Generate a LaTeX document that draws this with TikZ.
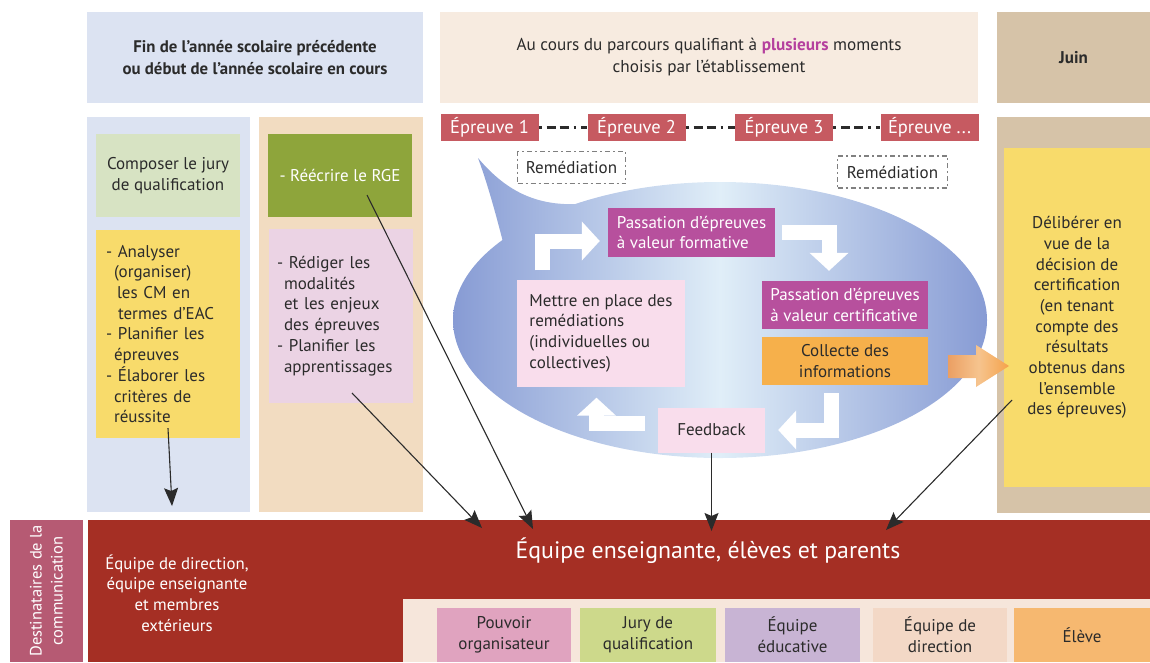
\documentclass[tikz,border=0pt]{standalone}
\usepackage{fontspec}
\setmainfont{PT Sans}
\usepackage{tikz}
\usetikzlibrary{arrows.meta,positioning,shapes.geometric}

\definecolor{ink}{HTML}{2B2B2B}
\definecolor{hdrblue}{HTML}{DCE3F2}
\definecolor{hdrpeach}{HTML}{F7EBE0}
\definecolor{tan}{HTML}{D6C3A8}
\definecolor{colpeach}{HTML}{F2DCC1}
\definecolor{jurygreen}{HTML}{D7E3C3}
\definecolor{sun}{HTML}{F8DB6B}
\definecolor{rgegreen}{HTML}{8EA53B}
\definecolor{redigpink}{HTML}{EBD3E4}
\definecolor{epr}{HTML}{C65A61}
\definecolor{plum}{HTML}{B7509D}
\definecolor{plumtxt}{HTML}{B5409E}
\definecolor{amber}{HTML}{F6B04B}
\definecolor{palepink}{HTML}{F9DDEC}
\definecolor{bandred}{HTML}{A52F24}
\definecolor{destrose}{HTML}{B65A73}
\definecolor{legbg}{HTML}{F6E6DB}
\definecolor{legpink}{HTML}{E0A3BF}
\definecolor{leggreen}{HTML}{CDD98B}
\definecolor{leglav}{HTML}{C8B4D4}
\definecolor{legpeach}{HTML}{F3D8C6}
\definecolor{legorange}{HTML}{F6B870}
\definecolor{bEdge}{HTML}{879BD4}
\definecolor{bMid}{HTML}{E0EEF8}
\definecolor{arrL}{HTML}{EB9F63}
\definecolor{arrM}{HTML}{F6C48E}
\definecolor{arrR}{HTML}{F5A24A}

\newcommand{\bodyfont}{\fontsize{17}{20.7}\selectfont}

\begin{document}
\begin{tikzpicture}[x=1pt, y=-1pt,
  zone/.style={fill=#1, inner sep=0pt},
  card/.style={fill=#1, inner sep=0pt, font=\bodyfont, text=ink, align=center},
  trial/.style={fill=epr, text=white, inner sep=0pt, minimum width=98pt,
    minimum height=27pt, font=\fontsize{18.5}{20}\selectfont},
  remed/.style={draw=black!50, line width=1.1pt, dash pattern=on 5pt off 3pt on 2pt off 3pt,
    fill=white, inner sep=0pt, minimum height=32pt, font=\bodyfont, text=ink},
  dots/.style={line width=2.8pt, draw=ink, dash pattern=on 2.8pt off 5pt on 9pt off 4pt on 9pt off 5pt},
  turn/.style={draw=white, line width=15pt, -{Triangle[length=18pt, width=38pt]}},
  pointer/.style={draw=ink, line width=1.1pt, -{Stealth[length=18pt, width=14pt, inset=3pt]}}
]
  \useasboundingbox (0,0) rectangle (1150,662);

  % time headers
  \node[zone=hdrblue, minimum width=336pt, minimum height=91pt, text=ink, align=center,
    font=\fontsize{16.8}{22}\selectfont\bfseries] (hdrL) at (255,57.5)
    {Fin de l'année scolaire précédente\\ou début de l'année scolaire en cours};
  \node[zone=hdrpeach, minimum width=538pt, minimum height=91pt, text=ink, align=center,
    font=\fontsize{17.2}{22}\selectfont] (hdrM) at (709,57.5)
    {Au cours du parcours qualifiant à \textcolor{plumtxt}{\textbf{plusieurs}} moments\\choisis par l'établissement};
  \node[zone=tan, minimum width=153pt, minimum height=91pt, text=ink,
    font=\fontsize{17}{20}\selectfont\bfseries] (hdrR) at (1073.5,57.5) {Juin};

  % columns
  \node[zone=hdrblue, minimum width=163pt, minimum height=395pt] (colA) at (168.5,314.5) {};
  \node[zone=colpeach, minimum width=164pt, minimum height=395pt] (colB) at (341,314.5) {};
  \node[zone=tan, minimum width=153pt, minimum height=396pt] (colR) at (1073.5,315) {};

  \node[card=jurygreen, minimum width=144pt, minimum height=83pt] (jury) at (168,175.5)
    {Composer le jury\\de qualification};
  \node[card=sun, minimum width=144pt, minimum height=208pt, text width=124pt, align=left] (analy) at (168,334)
    {- Analyser\\\hspace*{8pt}(organiser)\\\hspace*{11pt}les CM en\\\hspace*{12pt}termes d'EAC\\
     - Planifier les\\\hspace*{8pt}épreuves\\- Élaborer les\\\hspace*{8pt}critères de\\\hspace*{8pt}réussite};
  \node[card=rgegreen, minimum width=144pt, minimum height=83pt, text=white] (rge) at (340,175.5)
    {- Réécrire le RGE};
  \node[card=redigpink, minimum width=144pt, minimum height=174pt, text width=128pt, align=left] (redig) at (341,316)
    {- Rédiger les\\\hspace*{7pt}modalités\\\hspace*{7pt}et les enjeux\\\hspace*{7pt}des épreuves\\
     - Planifier les\\\hspace*{7pt}apprentissages};
  \node[card=sun, minimum width=146pt, minimum height=339pt] (delib) at (1077,317.5)
    {Délibérer en\\vue de la\\décision de\\certification\\(en tenant\\compte des\\résultats\\obtenus dans\\l'ensemble\\des épreuves)};

  % speech bubble
  \shade[left color=bMid!9!bEdge, right color=bMid!47!bEdge]
    (478,158) .. controls (505,190) and (535,206) .. (578,204) -- (560,270) -- (503,242)
    .. controls (496,215) and (488,185) .. cycle;
  \node[ellipse, inner sep=0pt, minimum width=534pt, minimum height=276pt,
    left color=bEdge, right color=bEdge, middle color=bMid] (bubble) at (720,320) {};

  \node[card=plum, minimum width=167pt, minimum height=49pt, text=white, align=left] (form) at (691.5,232.5)
    {Passation d'épreuves\\à valeur formative};
  \node[card=plum, minimum width=166pt, minimum height=48pt, text=white, align=left] (cert) at (845,305)
    {Passation d'épreuves\\à valeur certificative};
  \node[card=amber, minimum width=166pt, minimum height=48pt] (coll) at (845,361)
    {Collecte des\\informations};
  \node[card=palepink, minimum width=168pt, minimum height=107pt, align=left] (mettre) at (601,333)
    {Mettre en place des\\remédiations\\(individuelles ou\\collectives)};
  \node[card=palepink, minimum width=107pt, minimum height=45pt] (feed) at (711.5,430) {Feedback};

  \draw[turn] ([xshift=26pt,yshift=9pt]mettre.north west) |- ([xshift=-8pt,yshift=-8.5pt]form.west);
  \draw[turn] ([xshift=7pt]form.east) -| ([xshift=-16pt,yshift=10pt]cert.north);
  \draw[turn] ([xshift=-14pt,yshift=-8pt]coll.south) |- ([xshift=13pt]feed.east);
  \draw[turn] ([xshift=-13pt,yshift=7pt]feed.west) -| ([xshift=-4.5pt,yshift=-11pt]mettre.south);

  % orange arrow to the deliberation
  \shade[left color=arrL, right color=arrR, middle color=arrM]
    (948,355) -- (976,355) -- (976,345) -- (1009,366) -- (976,387) -- (976,378) -- (948,378) -- cycle;

  % tests
  \node[trial] (e1) at (489.5,127.5) {Épreuve 1};
  \node[trial] (e2) at (636.5,127.5) {Épreuve 2};
  \node[trial] (e3) at (784,127.5) {Épreuve 3};
  \node[trial] (e4) at (929.5,127.5) {Épreuve ...};
  \draw[dots] (e1) -- (e2);
  \draw[dots] (e2) -- (e3);
  \draw[dots] (e3) -- (e4);

  \node[remed, minimum width=108pt] (rem1) at (571.5,167.5) {Remédiation};
  \node[remed, minimum width=110pt] (rem2) at (892.5,172) {Remédiation};

  % recipients
  \node[zone=destrose, minimum width=142pt, minimum height=73pt, rotate=90, text=white,
    align=center, font=\fontsize{16.5}{21}\selectfont] (dest) at (46.5,591)
    {Destinataires de la\\communication};
  \node[zone=bandred, minimum width=1062pt, minimum height=142pt] (band) at (619,591) {};
  \node[text=white, align=center, font=\fontsize{16.8}{20.8}\selectfont] (bandL) at (177,593)
    {Équipe de direction,\\équipe enseignante\\et membres\\extérieurs};
  \node[text=white, font=\fontsize{23.8}{26}\selectfont] (bandM) at (708,551)
    {Équipe enseignante, élèves et parents};
  \node[zone=legbg, minimum width=747pt, minimum height=63pt] (legend) at (776.5,630.5) {};
  \node[card=legpink, minimum width=134pt, minimum height=54pt] (lpouv) at (504,635) {Pouvoir\\organisateur};
  \node[card=leggreen, minimum width=136pt, minimum height=54pt] (ljury) at (648,635) {Jury de\\qualification};
  \node[card=leglav, minimum width=135pt, minimum height=54pt] (leduc) at (792.5,635) {Équipe\\éducative};
  \node[card=legpeach, minimum width=134pt, minimum height=54pt] (ldir) at (940,635) {Équipe de\\direction};
  \node[card=legorange, minimum width=136pt, minimum height=54pt] (leleve) at (1082,635) {Élève};

  % communication arrows
  \coordinate (tipJ) at (172,506);
  \coordinate (tipR) at (533,529);
  \coordinate (tipM) at (482,528);
  \coordinate (tipF) at (711.5,531);
  \coordinate (tipD) at (886,530);
  \draw[pointer] ([yshift=10pt]analy.south) -- (tipJ);
  \draw[pointer] ([xshift=27pt,yshift=-19.5pt]rge.center) -- (tipR);
  \draw[pointer] ([xshift=11pt,yshift=-77pt]redig.center) -- (tipM);
  \draw[pointer] (feed.south) -- (tipF);
  \draw[pointer] ([xshift=-65pt,yshift=-82.5pt]delib.center) -- (tipD);
\end{tikzpicture}
\end{document}
